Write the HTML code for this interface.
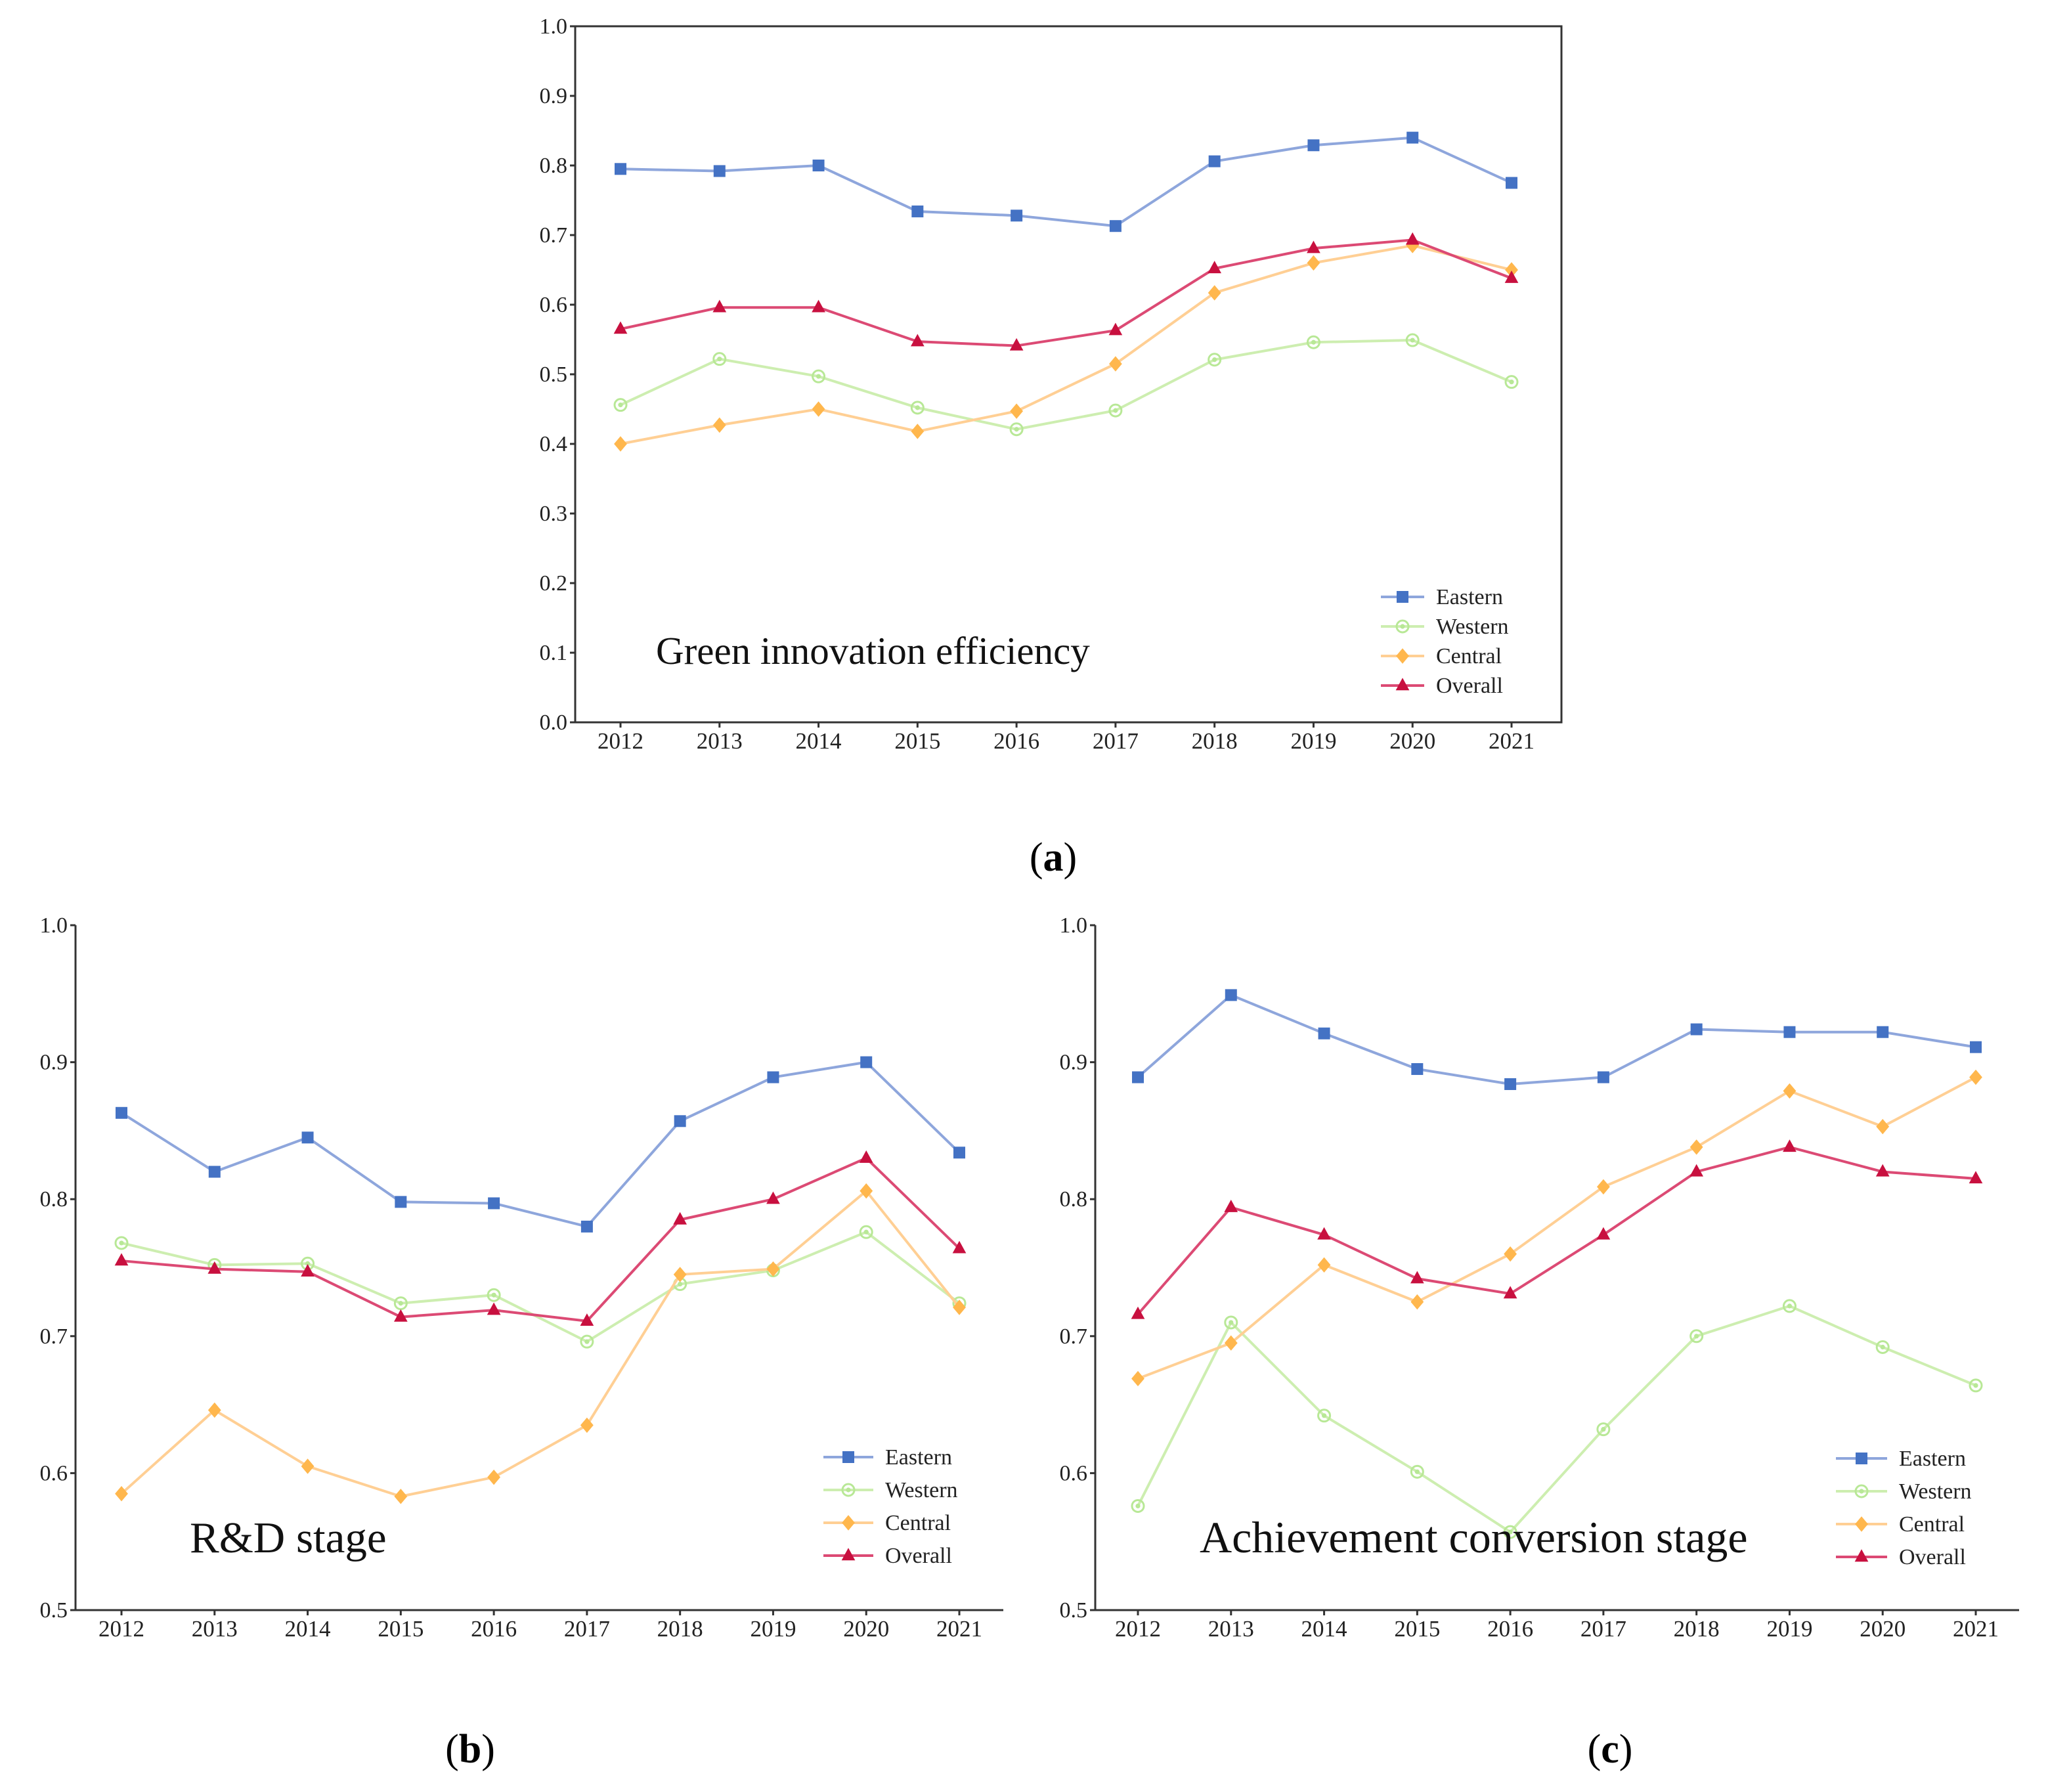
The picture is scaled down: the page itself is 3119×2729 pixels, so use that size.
<!DOCTYPE html>
<html><head><meta charset="utf-8"><style>
html,body{margin:0;padding:0;background:#fff;}
svg{display:block;font-family:"Liberation Serif",serif;}
</style></head><body>
<svg id="fig" width="3119" height="2729" viewBox="0 0 3119 2729" xmlns="http://www.w3.org/2000/svg"></svg>
<script>
const years = [2012,2013,2014,2015,2016,2017,2018,2019,2020,2021];
const seriesNames = ["Eastern","Western","Central","Overall"];
// Panel (a): Green innovation efficiency
const aEastern = [0.795,0.792,0.800,0.734,0.728,0.713,0.806,0.829,0.840,0.775];
const aWestern = [0.456,0.522,0.497,0.452,0.421,0.448,0.521,0.546,0.549,0.489];
const aCentral = [0.400,0.427,0.450,0.418,0.447,0.515,0.617,0.660,0.685,0.650];
const aOverall = [0.565,0.596,0.596,0.547,0.541,0.563,0.652,0.681,0.693,0.638];
// Panel (b): R&D stage
const bEastern = [0.863,0.820,0.845,0.798,0.797,0.780,0.857,0.889,0.900,0.834];
const bWestern = [0.768,0.752,0.753,0.724,0.730,0.696,0.738,0.748,0.776,0.724];
const bCentral = [0.585,0.646,0.605,0.583,0.597,0.635,0.745,0.749,0.806,0.721];
const bOverall = [0.755,0.749,0.747,0.714,0.719,0.711,0.785,0.800,0.830,0.764];
// Panel (c): Achievement conversion stage
const cEastern = [0.889,0.949,0.921,0.895,0.884,0.889,0.924,0.922,0.922,0.911];
const cWestern = [0.576,0.710,0.642,0.601,0.557,0.632,0.700,0.722,0.692,0.664];
const cCentral = [0.669,0.695,0.752,0.725,0.760,0.809,0.838,0.879,0.853,0.889];
const cOverall = [0.716,0.794,0.774,0.742,0.731,0.774,0.820,0.838,0.820,0.815];
const aTicks = [0.0,0.1,0.2,0.3,0.4,0.5,0.6,0.7,0.8,0.9,1.0];
const bcTicks = [0.5,0.6,0.7,0.8,0.9,1.0];

const NS="http://www.w3.org/2000/svg";
const svg=document.getElementById('fig');
const styles={
 Eastern:{line:"#8ea6dc",mark:"#4472c4",shape:"square"},
 Western:{line:"#cdeeb0",mark:"#b8e896",shape:"circle"},
 Central:{line:"#ffcf94",mark:"#ffb74d",shape:"diamond"},
 Overall:{line:"#dc4a74",mark:"#c8103f",shape:"triangle"}
};
function el(tag,attrs,parent){const e=document.createElementNS(NS,tag);for(const k in attrs)e.setAttribute(k,attrs[k]);(parent||svg).appendChild(e);return e;}
function marker(g,shape,x,y,st,sz){
 let m;
 if(shape==="square") m=el('rect',{x:x-sz,y:y-sz,width:2*sz,height:2*sz,fill:st.mark},g);
 else if(shape==="circle"){m=el('circle',{cx:x,cy:y,r:sz,fill:"none",stroke:st.mark,'stroke-width':3},g);el('circle',{cx:x,cy:y,r:sz*0.4,fill:st.mark},g);}
 else if(shape==="diamond") m=el('polygon',{points:`${x},${y-sz*1.3} ${x+sz*1.1},${y} ${x},${y+sz*1.3} ${x-sz*1.1},${y}`,fill:st.mark},g);
 else m=el('polygon',{points:`${x},${y-sz*1.3} ${x+sz*1.15},${y+sz*0.8} ${x-sz*1.15},${y+sz*0.8}`,fill:st.mark},g);
 
 
}
function panel(cfg){
 const g=el('g',{});
 
 
 const xs=i=>cfg.x0+(cfg.x1-cfg.x0)*i/(years.length-1);
 const ys=v=>cfg.yb-(v-cfg.vmin)/(cfg.vmax-cfg.vmin)*(cfg.yb-cfg.yt);
 if(cfg.box){const r=el('rect',{x:cfg.left,y:cfg.yt,width:cfg.right-cfg.left,height:cfg.yb-cfg.yt,fill:"none",stroke:"#333",'stroke-width':3},g);}
 else{
  const ya=el('line',{x1:cfg.left,y1:cfg.yt,x2:cfg.left,y2:cfg.yb,stroke:"#333",'stroke-width':3},g);
  const xa=el('line',{x1:cfg.left,y1:cfg.yb,x2:cfg.right,y2:cfg.yb,stroke:"#333",'stroke-width':3},g);
 }
 cfg.ticks.forEach(t=>{
  const y=ys(t);
  el('line',{x1:cfg.left-8,y1:y,x2:cfg.left,y2:y,stroke:"#333",'stroke-width':3},g);
  const tx=el('text',{x:cfg.left-12,y:y+11,'text-anchor':'end','font-size':34,fill:"#222"},g);
  tx.textContent=t.toFixed(1);
  
  
 });
 years.forEach((yr,i)=>{
  const x=xs(i);
  el('line',{x1:x,y1:cfg.yb,x2:x,y2:cfg.yb+8,stroke:"#333",'stroke-width':3},g);
  const tx=el('text',{x:x,y:cfg.yb+40,'text-anchor':'middle','font-size':35,fill:"#222"},g);
  tx.textContent=yr;
  
  
 });
 seriesNames.forEach((n,k)=>{
  const st=styles[n],vals=cfg.data[k];
  const pts=vals.map((v,i)=>xs(i)+','+ys(v)).join(' ');
  const pl=el('polyline',{points:pts,fill:"none",stroke:st.line,'stroke-width':4},g);
  
  
  vals.forEach((v,i)=>marker(g,st.shape,xs(i),ys(v),st,9));
  const ly=cfg.leg[1]+k*cfg.leg[3];
  const ll=el('line',{x1:cfg.leg[0],y1:ly,x2:cfg.leg[0]+cfg.leg[2],y2:ly,stroke:st.line,'stroke-width':4},g);
  
  
  marker(g,st.shape,cfg.leg[0]+cfg.leg[2]/2,ly,st,9);
  const lt=el('text',{x:cfg.leg[0]+cfg.leg[2]+18,y:ly+11,'font-size':34,fill:"#222"},g);
  lt.textContent=n;
  
  
 });
 const tt=el('text',{x:cfg.title[0],y:cfg.title[1],'font-size':cfg.title[3],fill:"#111"},g);
 tt.textContent=cfg.title[2];
 
 
 const lab=el('text',{x:cfg.lab[0],y:cfg.lab[1],'text-anchor':'middle','font-size':62,fill:"#000"},g);
 lab.innerHTML='(<tspan font-weight="bold">'+cfg.lab[2]+'</tspan>)';
 
 
}
panel({name:'panel-a',box:true,left:876,right:2378,yt:40,yb:1100,x0:945,x1:2302,vmin:0,vmax:1,ticks:aTicks,
 data:[aEastern,aWestern,aCentral,aOverall],leg:[2103,909,66,45],title:[999,1011,'Green innovation efficiency',59],lab:[1604,1326,'a']});
panel({name:'panel-b',box:false,left:115,right:1528,yt:1409,yb:2452,x0:185,x1:1461,vmin:0.5,vmax:1,ticks:bcTicks,
 data:[bEastern,bWestern,bCentral,bOverall],leg:[1254,2219,76,50],title:[289,2364,'R&D stage',67],lab:[716,2684,'b']});
panel({name:'panel-c',box:false,left:1668,right:3075,yt:1409,yb:2452,x0:1733,x1:3009,vmin:0.5,vmax:1,ticks:bcTicks,
 data:[cEastern,cWestern,cCentral,cOverall],leg:[2796,2221,78,50],title:[1827,2364,'Achievement  conversion stage',68],lab:[2452,2684,'c']});
</script>
</body></html>
